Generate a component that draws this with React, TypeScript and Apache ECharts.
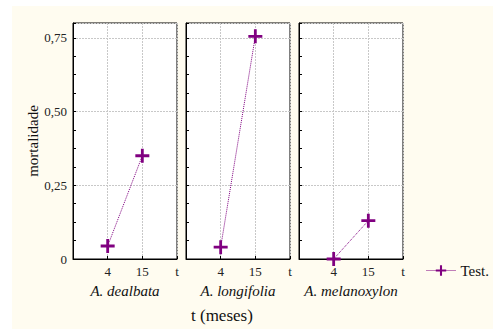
import React, { useEffect, useRef } from "react";
import * as echarts from "echarts";

const species = ["A. dealbata", "A. longifolia", "A. melanoxylon"];
const timeLabels = ["4", "15", "t"];
const seriesName = "Test.";
const mortality4 = [0.044, 0.04, 0.0];
const mortality15 = [0.35, 0.755, 0.13];
const yTicks = ["0", "0,25", "0,50", "0,75"];

const PURPLE = "#800080";
const FONT = "Times New Roman";
const PLUS = "path://M4,0H6V4H10V6H6V10H4V6H0V4H4Z";

export default function App() {
  const ref = useRef<HTMLDivElement>(null);
  useEffect(() => {
    const chart = echarts.init(ref.current!, null, { renderer: "svg" });
    const lefts = [73, 186, 299];
    const grids = lefts.map((l) => ({
      left: l,
      top: 23,
      width: 104,
      height: 236,
      show: true,
      borderColor: "#000",
      borderWidth: 1,
      backgroundColor: "#fff",
    }));
    const xAxes = species.map((sp, i) => ({
      type: "value",
      gridIndex: i,
      min: 0,
      max: timeLabels.length,
      interval: 1,
      name: sp,
      nameLocation: "middle",
      nameGap: 24,
      nameTextStyle: { fontFamily: FONT, fontStyle: "italic", fontSize: 15, color: "#111" },
      axisLine: { show: true, lineStyle: { color: "#000" } },
      axisTick: { show: true, inside: true, length: 3, lineStyle: { color: "#000" } },
      axisLabel: {
        margin: 6,
        fontFamily: FONT,
        fontSize: 13,
        color: "#222",
        showMinLabel: true,
        formatter: (v: number) => (v >= 1 ? timeLabels[Math.round(v) - 1] : ""),
      },
      splitLine: { show: true, lineStyle: { color: "#c8c8c8", type: [2, 1] } },
    }));
    const yAxes: any[] = [];
    species.forEach((_, i) => {
      yAxes.push({
        type: "value",
        gridIndex: i,
        min: 0,
        max: 0.8,
        interval: 0.25,
        name: i === 0 ? "mortalidade" : "",
        nameLocation: "middle",
        nameGap: 33,
        nameRotate: 90,
        nameTextStyle: { fontFamily: FONT, fontSize: 15, color: "#111" },
        axisLine: { show: true, lineStyle: { color: "#000" } },
        axisTick: { show: true, inside: true, length: 3, lineStyle: { color: "#000" } },
        minorTick: { show: true, splitNumber: 4, length: 3, lineStyle: { color: "#000" } },
        axisLabel: {
          show: i === 0,
          margin: 6,
          fontFamily: FONT,
          fontSize: 13,
          color: "#222",
          showMaxLabel: false,
          formatter: (v: number) => {
            const k = Math.round(v / 0.25);
            return Math.abs(v - k * 0.25) < 1e-6 && k < yTicks.length ? yTicks[k] : "";
          },
        },
        splitLine: { show: true, lineStyle: { color: "#c8c8c8", type: [2, 1] } },
      });
    });
    const series = species.map((_, i) => ({
      type: "line",
      name: seriesName,
      xAxisIndex: i,
      yAxisIndex: i,
      data: [
        [1, mortality4[i]],
        [2, mortality15[i]],
      ],
      symbol: PLUS,
      symbolSize: 14,
      itemStyle: { color: PURPLE },
      lineStyle: { color: PURPLE, width: 1, type: "dotted" },
      clip: false,
      z: 5,
    }));
    chart.setOption({
      animation: false,
      backgroundColor: "#fff",
      grid: grids,
      xAxis: xAxes,
      yAxis: yAxes,
      series,
      legend: {
        data: [seriesName],
        left: 421,
        top: 258,
        itemWidth: 29,
        itemHeight: 13,
        itemGap: 12,
        itemStyle: { color: PURPLE },
        lineStyle: { color: PURPLE, width: 1, type: "dotted" },
        textStyle: { fontFamily: FONT, fontSize: 15, color: "#111" },
      },
      graphic: [
        {
          type: "rect",
          z: -10,
          silent: true,
          shape: { x: 12, y: 6, width: 481, height: 323 },
          style: { fill: "#fffcf0" },
        },
        {
          type: "text",
          left: 191,
          top: 307,
          style: { text: "t (meses)", font: `17px "${FONT}"`, fill: "#111" },
        },
      ],
    });
    return () => chart.dispose();
  }, []);
  return (
    <div
      ref={ref}
      style={{ position: "fixed", left: 0, top: 0, width: 493, height: 329 }}
    />
  );
}
